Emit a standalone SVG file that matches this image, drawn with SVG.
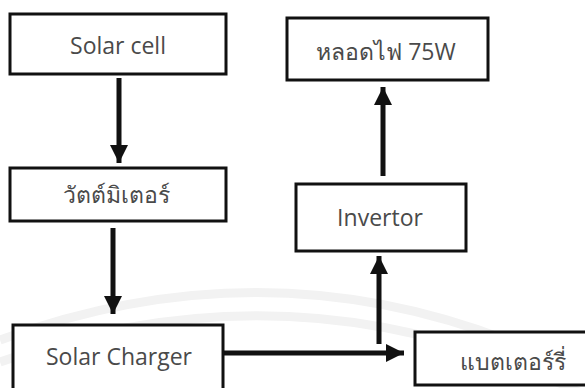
<svg xmlns="http://www.w3.org/2000/svg" width="585" height="388" viewBox="0 0 585 388">
<style>
.box{fill:#fff;stroke:#111;stroke-width:3}
.lbl{font-family:"Open Sans","Noto Sans",sans-serif;font-size:23px;fill:#4a4a4a;text-anchor:middle;dominant-baseline:central}
.con{stroke:#111;stroke-width:5;fill:none}
.wm{stroke:#f2f2f2;stroke-width:9;fill:none}
</style>
<defs>
<marker id="ah" markerUnits="userSpaceOnUse" markerWidth="20" markerHeight="20" refX="18" refY="9" orient="auto">
<path d="M0,0 L18,9 L0,18 Z" fill="#111"/>
</marker>
</defs>
<rect width="585" height="388" fill="#fff"/>
<g id="watermark">
<path class="wm" d="M0,340 Q300,230 585,375"/>
<path class="wm" d="M0,362 Q300,255 585,395"/>
</g>
<g id="connectors">
<line class="con" x1="119" y1="78" x2="119" y2="163" marker-end="url(#ah)"/>
<line class="con" x1="113" y1="228" x2="113" y2="314" marker-end="url(#ah)"/>
<line class="con" x1="217" y1="353" x2="404" y2="353" marker-end="url(#ah)"/>
<line class="con" x1="379" y1="344" x2="379" y2="256" marker-end="url(#ah)"/>
<line class="con" x1="383" y1="176" x2="383" y2="87" marker-end="url(#ah)"/>
</g>
<g id="solar-cell">
<rect class="box" x="10" y="14" width="216" height="60"/>
<text class="lbl" x="118" y="45">Solar cell</text>
</g>
<g id="wattmeter">
<rect class="box" x="10" y="168" width="216" height="53"/>
<text class="lbl" x="116" y="194">วัตต์มิเตอร์</text>
</g>
<g id="solar-charger">
<rect class="box" x="13" y="325" width="210" height="70"/>
<text class="lbl" x="119" y="356">Solar Charger</text>
</g>
<g id="battery">
<rect class="box" x="415" y="332" width="175" height="53"/>
<text class="lbl" x="513" y="361">แบตเตอร์รี่</text>
</g>
<g id="invertor">
<rect class="box" x="296" y="184" width="170" height="67"/>
<text class="lbl" x="380" y="217">Invertor</text>
</g>
<g id="lamp">
<rect class="box" x="287" y="18" width="201" height="62"/>
<text class="lbl" x="386" y="51">หลอดไฟ 75W</text>
</g>
</svg>
